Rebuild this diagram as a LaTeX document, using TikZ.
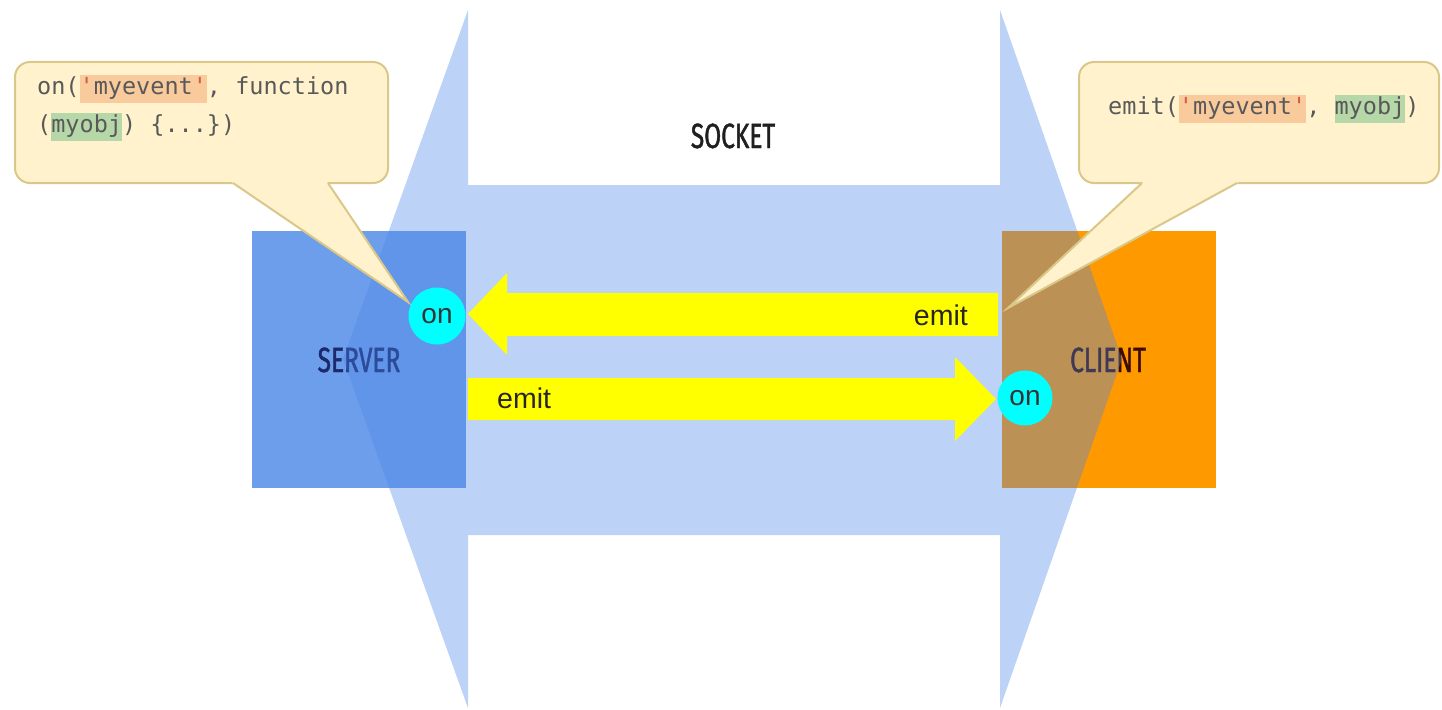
\documentclass[tikz,border=0pt]{standalone}
\usepackage{fontspec}
\setmainfont{Liberation Sans}
\setmonofont{DejaVu Sans Mono}
\newfontfamily\labelfont[FakeStretch=0.70,FakeBold=1.2]{Fira Sans}
\usetikzlibrary{calc}

\definecolor{serverblue}{HTML}{6D9EEB}
\definecolor{socketblue}{HTML}{4A86E8}
\definecolor{clientorange}{HTML}{FF9900}
\definecolor{arrowyellow}{HTML}{FFFF00}
\definecolor{oncyan}{HTML}{00FFFF}
\definecolor{notefill}{HTML}{FFF2CC}
\definecolor{noteline}{HTML}{D9C88A}
\definecolor{codegray}{HTML}{595959}
\definecolor{strhl}{HTML}{F9CB9C}
\definecolor{objhl}{HTML}{B6D7A8}
\definecolor{quotered}{HTML}{D25C45}
\definecolor{servertext}{HTML}{1C2A6B}
\definecolor{clienttext}{HTML}{3C0C00}

% highlighted pieces of code
\newcommand{\hlstrut}{\rule[-9pt]{0pt}{28pt}}
\newcommand{\codehl}[2]{{\setlength{\fboxsep}{0pt}\colorbox{#1}{\hlstrut#2}}}
\newcommand{\qmark}{{\color{quotered}\textquotesingle}}

\begin{document}
\begin{tikzpicture}[x=1pt,y=-1pt,
  endpoint/.style={inner sep=0pt,minimum width=214pt,minimum height=257pt,anchor=north west},
  bigtag/.style={font=\labelfont\fontsize{35}{40}\selectfont,inner sep=0pt,anchor=base},
  note/.style={fill=notefill,draw=noteline,line width=2pt},
  codeline/.style={font=\ttfamily\fontsize{23.5}{28}\selectfont,text=codegray,inner sep=0pt,anchor=base west},
  oncircle/.style={circle,fill=oncyan,inner sep=0pt,font=\fontsize{28}{32}\selectfont,text=black!80},
  flowarrow/.style={fill=arrowyellow},
  verb/.style={font=\fontsize{28.5}{32}\selectfont,text=black!85,inner sep=0pt}]

\useasboundingbox (0,0) rectangle (1442,709);
\fill[white] (0,0) rectangle (1442,709);

% server and client boxes with their names
\node[endpoint,fill=serverblue] (server) at (252,231) {};
\node[endpoint,fill=clientorange] (client) at (1002,231) {};
\node[bigtag,text=servertext] (serverlabel) at (359,372) {SERVER};
\node[bigtag,text=clienttext] (clientlabel) at (1108,372) {CLIENT};

% the socket: a translucent double-headed arrow
\fill[socketblue,fill opacity=0.37]
  (468,10) -- (343,359) -- (468,708) -- (468,535) -- (1000,535) -- (1000,708)
  -- (1122,359) -- (1000,10) -- (1000,185) -- (468,185) -- cycle;
\node[bigtag,text=black!88] (socketlabel) at (733,148) {SOCKET};

% event flows
\fill[flowarrow] (468,314) -- (507,273) -- (507,293) -- (998,293) -- (998,336)
  -- (507,336) -- (507,355) -- cycle;
\fill[flowarrow] (468,378) -- (955,378) -- (955,357) -- (996,399) -- (955,441)
  -- (955,420) -- (468,420) -- cycle;
\node[verb,anchor=base east] (emitback) at (968,325) {emit};
\node[verb,anchor=base west] (emitfwd) at (497,408) {emit};

\node[oncircle,minimum size=57pt] (onserver) at (437,316) {on};
\node[oncircle,minimum size=55pt] (onclient) at (1025,398) {on};

% server callout
\coordinate (ltA) at (233,183);
\coordinate (ltB) at (328,183);
\coordinate (ltTip) at (408,302);
\filldraw[note,rounded corners=15pt] (15,62) rectangle (388,183);
\fill[notefill] ($(ltTip)!1.08!(ltA)$) -- (ltTip) -- ($(ltTip)!1.08!(ltB)$) -- cycle;
\draw[draw=noteline,line width=2pt] (ltA) -- (ltTip) -- (ltB);
\node[codeline] (srvcode1) at (37,94) {on(\codehl{strhl}{\qmark myevent\qmark}, function};
\node[codeline] (srvcode2) at (37,132) {(\codehl{objhl}{myobj}) \{...\})};

% client callout
\coordinate (rtA) at (1142,183);
\coordinate (rtB) at (1237,183);
\coordinate (rtTip) at (1008,308);
\filldraw[note,rounded corners=15pt] (1079,62) rectangle (1439,183);
\fill[notefill] ($(rtTip)!1.08!(rtA)$) -- (rtTip) -- ($(rtTip)!1.08!(rtB)$) -- cycle;
\draw[draw=noteline,line width=2pt] (rtA) -- (rtTip) -- (rtB);
\node[codeline] (clicode) at (1108,114) {emit(\codehl{strhl}{\qmark myevent\qmark}, \codehl{objhl}{myobj})};
\end{tikzpicture}
\end{document}
